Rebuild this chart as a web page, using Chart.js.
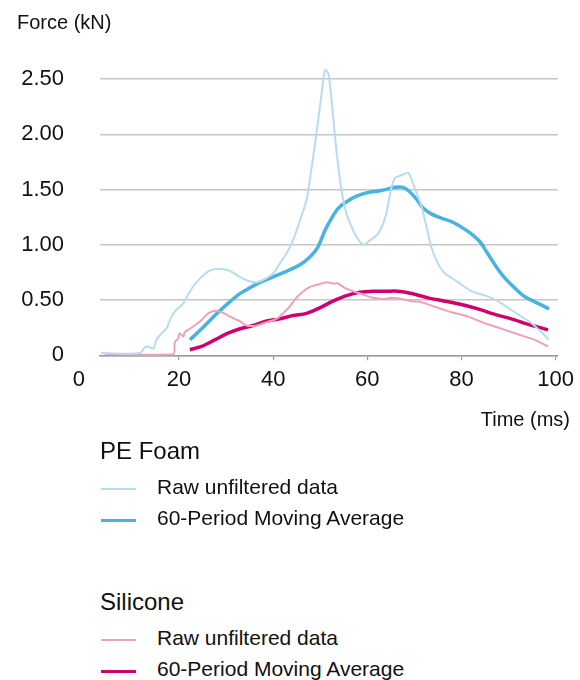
<!DOCTYPE html>
<html>
<head>
<meta charset="utf-8">
<script src="https://cdn.jsdelivr.net/npm/chart.js@4/dist/chart.umd.min.js"></script>
<style>
  html, body { margin: 0; padding: 0; background: #fff; }
  body { width: 580px; height: 680px; position: relative; overflow: hidden;
         font-family: "Liberation Sans", Arial, Helvetica, sans-serif; color: #111; }
  #wrap { position: absolute; left: 0; top: 0; width: 580px; height: 440px; }
  .lg-head { position: absolute; left: 100px; font-size: 24px; line-height: 28px; }
  .lg-item { position: absolute; left: 101px; height: 26px; font-size: 21px; line-height: 26px; }
  .lg-item span.sw { position: absolute; left: 0; width: 35px; top: 13px; }
  .lg-item span.tx { position: absolute; left: 56px; white-space: nowrap; }
</style>
</head>
<body>
<div id="wrap"><canvas id="c" width="580" height="440"></canvas></div>
<div id="legend"></div>
<script>
// ---- Data (time in ms, force in kN) ----
const peRawTime = [3.4, 11.7, 12.7, 13.4, 14.5, 15.2, 16.3, 17.3, 18.4, 19.4, 20.9, 21.9, 23.3, 24.8, 26.2, 27.6, 29.0, 30.4, 31.8, 33.3, 35.0, 36.5, 38.6, 40.0, 41.4, 42.8, 44.2, 45.7, 47.1, 48.1, 49.2, 50.3, 51.0, 51.7, 52.4, 53.5, 54.5, 55.6, 57.0, 58.4, 59.3, 60.5, 61.6, 62.7, 63.9, 64.8, 65.8, 67.3, 68.7, 69.4, 70.5, 71.5, 72.6, 73.6, 75.0, 76.5, 77.9, 80.0, 82.1, 84.3, 86.4, 88.5, 90.6, 92.8, 94.9, 97.0, 98.6];
const peRawForce = [0.02, 0.02, 0.07, 0.08, 0.06, 0.14, 0.20, 0.24, 0.35, 0.41, 0.47, 0.55, 0.64, 0.71, 0.76, 0.78, 0.78, 0.77, 0.74, 0.70, 0.67, 0.66, 0.70, 0.74, 0.83, 0.92, 1.04, 1.22, 1.41, 1.68, 2.01, 2.37, 2.58, 2.55, 2.31, 1.83, 1.50, 1.28, 1.13, 1.03, 1.00, 1.04, 1.07, 1.13, 1.26, 1.45, 1.60, 1.63, 1.65, 1.59, 1.47, 1.35, 1.16, 0.98, 0.83, 0.74, 0.70, 0.64, 0.58, 0.55, 0.52, 0.47, 0.41, 0.35, 0.29, 0.21, 0.14];

const peAvgTime = [22.3, 24.8, 27.6, 30.4, 33.0, 35.0, 37.2, 40.0, 42.8, 45.7, 47.8, 49.5, 51.0, 52.4, 53.8, 55.6, 57.7, 59.8, 62.7, 64.8, 65.8, 67.6, 69.0, 70.5, 71.9, 73.6, 75.8, 77.9, 80.0, 82.1, 83.9, 85.3, 87.1, 89.2, 91.3, 93.5, 96.3, 98.6];
const peAvgForce = [0.14, 0.24, 0.36, 0.47, 0.56, 0.61, 0.66, 0.71, 0.76, 0.82, 0.89, 0.98, 1.13, 1.24, 1.33, 1.39, 1.44, 1.47, 1.49, 1.51, 1.52, 1.52, 1.48, 1.41, 1.33, 1.28, 1.24, 1.21, 1.16, 1.10, 1.03, 0.94, 0.82, 0.70, 0.61, 0.53, 0.47, 0.42];

const siRawTime = [4.2, 18.7, 19.1, 19.8, 20.1, 20.9, 21.2, 22.3, 23.3, 24.8, 26.2, 27.6, 29.0, 30.4, 31.8, 32.9, 34.3, 36.5, 38.6, 40.7, 42.1, 43.5, 44.9, 46.4, 47.8, 49.5, 51.3, 52.7, 53.8, 55.2, 57.0, 59.1, 61.2, 63.4, 65.1, 67.3, 69.4, 71.5, 74.3, 77.9, 81.4, 85.0, 88.5, 92.0, 95.6, 98.4];
const siRawForce = [0.01, 0.01, 0.12, 0.15, 0.20, 0.17, 0.21, 0.24, 0.27, 0.32, 0.38, 0.40, 0.39, 0.36, 0.33, 0.31, 0.27, 0.27, 0.30, 0.33, 0.38, 0.44, 0.52, 0.58, 0.62, 0.64, 0.66, 0.65, 0.65, 0.61, 0.58, 0.55, 0.52, 0.51, 0.52, 0.51, 0.49, 0.48, 0.44, 0.39, 0.35, 0.29, 0.24, 0.19, 0.14, 0.08];

const siAvgTime = [22.3, 24.8, 27.6, 30.4, 33.0, 35.7, 38.6, 41.4, 44.2, 47.1, 49.9, 52.7, 55.6, 58.4, 61.2, 64.0, 66.5, 69.4, 72.9, 76.5, 80.0, 83.5, 87.1, 90.6, 94.2, 98.4];
const siAvgForce = [0.05, 0.08, 0.14, 0.20, 0.24, 0.27, 0.31, 0.33, 0.36, 0.38, 0.43, 0.49, 0.54, 0.57, 0.58, 0.58, 0.58, 0.56, 0.52, 0.49, 0.46, 0.42, 0.37, 0.33, 0.28, 0.23];

const yTickValues = [0, 0.5, 1.0, 1.5, 2.0, 2.5];
const xTickValues = [20, 40, 60, 80, 100];
const yAxisTitle = 'Force (kN)';
const xAxisTitle = 'Time (ms)';
const xOriginLabel = '0';

const groups = [
  { name: 'PE Foam', items: [
    { label: 'Raw unfiltered data', t: peRawTime, f: peRawForce, color: '#b7dcf1', width: 2 },
    { label: '60-Period Moving Average', t: peAvgTime, f: peAvgForce, color: '#48b3df', width: 3.5 } ] },
  { name: 'Silicone', items: [
    { label: 'Raw unfiltered data', t: siRawTime, f: siRawForce, color: '#eca2bb', width: 2 },
    { label: '60-Period Moving Average', t: siAvgTime, f: siAvgForce, color: '#cf0070', width: 3.5 } ] }
];

const FONT = '"Liberation Sans", Arial, Helvetica, sans-serif';

function mk(item) {
  return {
    label: item.label,
    data: item.t.map((t, i) => ({ x: t, y: item.f[i] })),
    borderColor: item.color,
    backgroundColor: item.color,
    borderWidth: item.width,
    pointRadius: 0,
    tension: 0.3,
    fill: false,
    clip: false
  };
}
// raw series first, averages on top
const datasets = [
  mk(groups[0].items[0]), mk(groups[1].items[0]),
  mk(groups[0].items[1]), mk(groups[1].items[1])
];

const textPlugin = {
  id: 'extraText',
  afterDraw(chart) {
    const ctx = chart.ctx;
    const xs = chart.scales.x;
    ctx.save();
    ctx.fillStyle = '#111';
    ctx.font = '20px ' + FONT;
    ctx.textBaseline = 'middle';
    ctx.textAlign = 'left';
    ctx.fillText(yAxisTitle, 17, 23);
    ctx.textAlign = 'right';
    ctx.fillText(xAxisTitle, 570, 420);
    ctx.font = '22px ' + FONT;
    ctx.textAlign = 'center';
    ctx.fillText(xOriginLabel, xs.getPixelForValue(0) - 6, 380);
    ctx.restore();
  }
};

new Chart(document.getElementById('c'), {
  type: 'line',
  data: { datasets },
  options: {
    responsive: false,
    animation: false,
    layout: { padding: { top: 62.5, right: 22, left: 0, bottom: 0 } },
    plugins: { legend: { display: false }, tooltip: { enabled: false }, title: { display: false } },
    scales: {
      x: {
        type: 'linear',
        min: 3.2, max: 100.5,
        afterBuildTicks: s => { s.ticks = xTickValues.map(v => ({ value: v })); },
        afterFit: s => { s.height = 84.7; },
        ticks: { font: { size: 22, family: FONT }, color: '#111', padding: 6, maxRotation: 0,
                 callback: v => String(v) },
        grid: { drawOnChartArea: false, drawTicks: true, tickLength: 5, color: '#9a9a9a', lineWidth: 1.2 },
        border: { display: true, color: '#9a9a9a', width: 1.5 }
      },
      y: {
        min: 0, max: 2.65,
        afterBuildTicks: s => { s.ticks = yTickValues.map(v => ({ value: v })); },
        afterFit: s => { s.width = 100; },
        ticks: { font: { size: 22, family: FONT }, color: '#111', padding: 36,
                 callback: v => v === 0 ? '0' : Number(v).toFixed(2) },
        grid: { color: '#c6c6c6', lineWidth: 1.5, drawTicks: false },
        border: { display: false }
      }
    }
  },
  plugins: [textPlugin]
});

// ---- HTML legend ----
const legend = document.getElementById('legend');
const headY = [451, 602];
groups.forEach((g, gi) => {
  const h = document.createElement('div');
  h.className = 'lg-head';
  h.style.top = (headY[gi] - 14) + 'px';
  h.textContent = g.name;
  legend.appendChild(h);
  g.items.forEach((it, ii) => {
    const cy = headY[gi] + 36 + ii * 31;
    const d = document.createElement('div');
    d.className = 'lg-item';
    d.style.top = (cy - 13) + 'px';
    const sw = document.createElement('span');
    sw.className = 'sw';
    sw.style.height = it.width < 3 ? '2px' : '3px';
    sw.style.marginTop = '1px';
    sw.style.background = it.color;
    const tx = document.createElement('span');
    tx.className = 'tx';
    tx.textContent = it.label;
    d.appendChild(sw); d.appendChild(tx);
    legend.appendChild(d);
  });
});
</script>
</body>
</html>
